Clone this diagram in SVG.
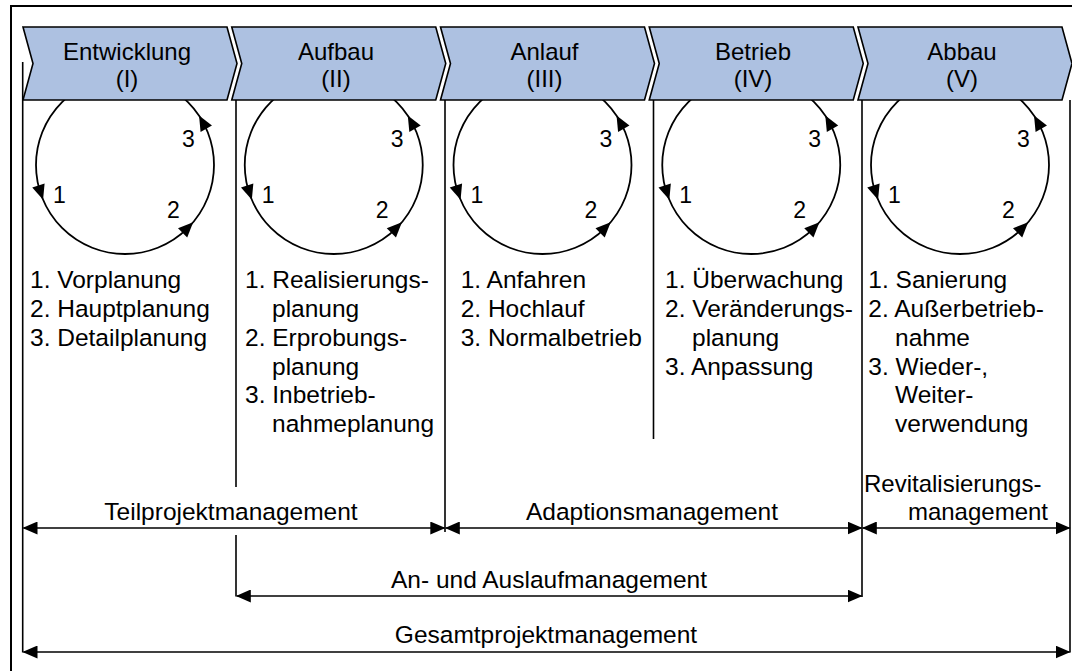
<svg xmlns="http://www.w3.org/2000/svg" width="1072" height="671" viewBox="0 0 1072 671">
  <style>
    text { font-family: "Liberation Sans", Arial, Helvetica, sans-serif; font-size: 24px; fill: #000; }
    .mid { text-anchor: middle; }
    .end { text-anchor: end; }
    .item { font-size: 24.5px; }
    .num { font-size: 23px; }
    .phase-shape { fill: #adc1e1; stroke: #000; stroke-width: 1.6; stroke-linejoin: miter; }
    .ring { fill: none; stroke: #000; stroke-width: 1.8; }
    .tri { fill: #000; }
    .line { fill: none; stroke: #000; stroke-width: 1.6; }
    .arrow { fill: none; stroke: #000; stroke-width: 1.6; marker-start: url(#head); marker-end: url(#head); }
  </style>
  <defs>
    <marker id="head" viewBox="0 0 15 13" refX="14" refY="6.5" markerWidth="15" markerHeight="13" markerUnits="userSpaceOnUse" orient="auto-start-reverse">
      <path d="M0,0 L15,6.5 L0,13 Z" fill="#000"/>
    </marker>
  </defs>

  <rect width="1072" height="671" fill="#fff"/>
  <!-- outer frame -->
  <rect x="11" y="6" width="1080" height="690" fill="none" stroke="#000" stroke-width="2"/>

  <!-- phase I -->
  <g id="phase-entwicklung">
    <g class="cycle" transform="translate(125,165)">
      <circle class="ring" r="89"/>
      <polygon class="tri" points="-81.93,34.78 -80.42,18.51 -92.78,22.55"/>
      <polygon class="tri" points="68.18,57.21 52.99,63.27 62.21,72.43"/>
      <polygon class="tri" points="74.04,-49.38 75.59,-33.11 86.97,-39.39"/>
      <text class="num" x="-72" y="38">1</text>
      <text class="num" x="42" y="53">2</text>
      <text class="num" x="57" y="-18">3</text>
    </g>
    <path class="phase-shape" d="M23,27 L227,27 L237,63.5 L227,100 L23,100 L33,63.5 Z"/>
    <text class="mid" x="127" y="60">Entwicklung</text>
    <text class="mid" x="127" y="87">(I)</text>
    <text class="item" x="30" y="288">1. Vorplanung</text>
    <text class="item" x="30" y="317">2. Hauptplanung</text>
    <text class="item" x="30" y="346">3. Detailplanung</text>
  </g>

  <!-- phase II -->
  <g id="phase-aufbau">
    <g class="cycle" transform="translate(333.75,165)">
      <circle class="ring" r="89"/>
      <polygon class="tri" points="-81.93,34.78 -80.42,18.51 -92.78,22.55"/>
      <polygon class="tri" points="68.18,57.21 52.99,63.27 62.21,72.43"/>
      <polygon class="tri" points="74.04,-49.38 75.59,-33.11 86.97,-39.39"/>
      <text class="num" x="-72" y="38">1</text>
      <text class="num" x="42" y="53">2</text>
      <text class="num" x="57" y="-18">3</text>
    </g>
    <path class="phase-shape" d="M231.75,27 L435.75,27 L445.75,63.5 L435.75,100 L231.75,100 L241.75,63.5 Z"/>
    <text class="mid" x="336" y="60">Aufbau</text>
    <text class="mid" x="336" y="87">(II)</text>
    <text class="item" x="245" y="288">1. Realisierungs-</text>
    <text class="item" x="272" y="317">planung</text>
    <text class="item" x="245" y="346">2. Erprobungs-</text>
    <text class="item" x="272" y="374.5">planung</text>
    <text class="item" x="245" y="403">3. Inbetrieb-</text>
    <text class="item" x="272" y="432">nahmeplanung</text>
  </g>

  <!-- phase III -->
  <g id="phase-anlauf">
    <g class="cycle" transform="translate(542.5,165)">
      <circle class="ring" r="89"/>
      <polygon class="tri" points="-81.93,34.78 -80.42,18.51 -92.78,22.55"/>
      <polygon class="tri" points="68.18,57.21 52.99,63.27 62.21,72.43"/>
      <polygon class="tri" points="74.04,-49.38 75.59,-33.11 86.97,-39.39"/>
      <text class="num" x="-72" y="38">1</text>
      <text class="num" x="42" y="53">2</text>
      <text class="num" x="57" y="-18">3</text>
    </g>
    <path class="phase-shape" d="M440.5,27 L644.5,27 L654.5,63.5 L644.5,100 L440.5,100 L450.5,63.5 Z"/>
    <text class="mid" x="544.5" y="60">Anlauf</text>
    <text class="mid" x="544.5" y="87">(III)</text>
    <text class="item" x="460.7" y="288">1. Anfahren</text>
    <text class="item" x="460.7" y="317">2. Hochlauf</text>
    <text class="item" x="460.7" y="346">3. Normalbetrieb</text>
  </g>

  <!-- phase IV -->
  <g id="phase-betrieb">
    <g class="cycle" transform="translate(751.25,165)">
      <circle class="ring" r="89"/>
      <polygon class="tri" points="-81.93,34.78 -80.42,18.51 -92.78,22.55"/>
      <polygon class="tri" points="68.18,57.21 52.99,63.27 62.21,72.43"/>
      <polygon class="tri" points="74.04,-49.38 75.59,-33.11 86.97,-39.39"/>
      <text class="num" x="-72" y="38">1</text>
      <text class="num" x="42" y="53">2</text>
      <text class="num" x="57" y="-18">3</text>
    </g>
    <path class="phase-shape" d="M649.25,27 L853.25,27 L863.25,63.5 L853.25,100 L649.25,100 L659.25,63.5 Z"/>
    <text class="mid" x="753" y="60">Betrieb</text>
    <text class="mid" x="753" y="87">(IV)</text>
    <text class="item" x="665" y="288">1. Überwachung</text>
    <text class="item" x="665" y="317">2. Veränderungs-</text>
    <text class="item" x="692" y="346">planung</text>
    <text class="item" x="665" y="374.5">3. Anpassung</text>
  </g>

  <!-- phase V -->
  <g id="phase-abbau">
    <g class="cycle" transform="translate(960,165)">
      <circle class="ring" r="89"/>
      <polygon class="tri" points="-81.93,34.78 -80.42,18.51 -92.78,22.55"/>
      <polygon class="tri" points="68.18,57.21 52.99,63.27 62.21,72.43"/>
      <polygon class="tri" points="74.04,-49.38 75.59,-33.11 86.97,-39.39"/>
      <text class="num" x="-72" y="38">1</text>
      <text class="num" x="42" y="53">2</text>
      <text class="num" x="57" y="-18">3</text>
    </g>
    <path class="phase-shape" d="M858,27 L1062,27 L1072,63.5 L1062,100 L858,100 L868,63.5 Z"/>
    <text class="mid" x="962" y="60">Abbau</text>
    <text class="mid" x="962" y="87">(V)</text>
    <text class="item" x="868.3" y="288">1. Sanierung</text>
    <text class="item" x="868.3" y="317">2. Außerbetrieb-</text>
    <text class="item" x="895" y="346">nahme</text>
    <text class="item" x="868.3" y="374.5">3. Wieder-,</text>
    <text class="item" x="895" y="403">Weiter-</text>
    <text class="item" x="895" y="432">verwendung</text>
  </g>

  <!-- boundaries and management spans -->
  <g id="connectors">
    <line class="line" x1="22.7" y1="62" x2="22.7" y2="652.5"/>
    <line class="line" x1="236" y1="100" x2="236" y2="487"/>
    <line class="line" x1="236" y1="535" x2="236" y2="596.5"/>
    <line class="line" x1="445" y1="100" x2="445" y2="532"/>
    <line class="line" x1="653.5" y1="100" x2="653.5" y2="439"/>
    <line class="line" x1="862" y1="100" x2="862" y2="597"/>
    <line class="line" x1="1070" y1="100" x2="1070" y2="652.5"/>

    <line class="arrow" x1="23.5" y1="528" x2="444.3" y2="528"/>
    <line class="arrow" x1="445.8" y1="528" x2="861.5" y2="528"/>
    <line class="arrow" x1="862.8" y1="528" x2="1069.5" y2="528"/>
    <line class="arrow" x1="236.8" y1="596" x2="861.5" y2="596"/>
    <line class="arrow" x1="23.5" y1="652" x2="1069.5" y2="652"/>
  </g>

  <g id="span-labels">
    <text class="mid" x="231" y="520" style="font-size:24.5px">Teilprojektmanagement</text>
    <text class="mid" x="652" y="520" style="font-size:24.5px">Adaptionsmanagement</text>
    <text x="864" y="492">Revitalisierungs-</text>
    <text class="end" x="1048" y="520">management</text>
    <text class="mid" x="549" y="588" style="font-size:24.5px">An- und Auslaufmanagement</text>
    <text class="mid" x="546" y="643" style="font-size:24.5px">Gesamtprojektmanagement</text>
  </g>
</svg>
